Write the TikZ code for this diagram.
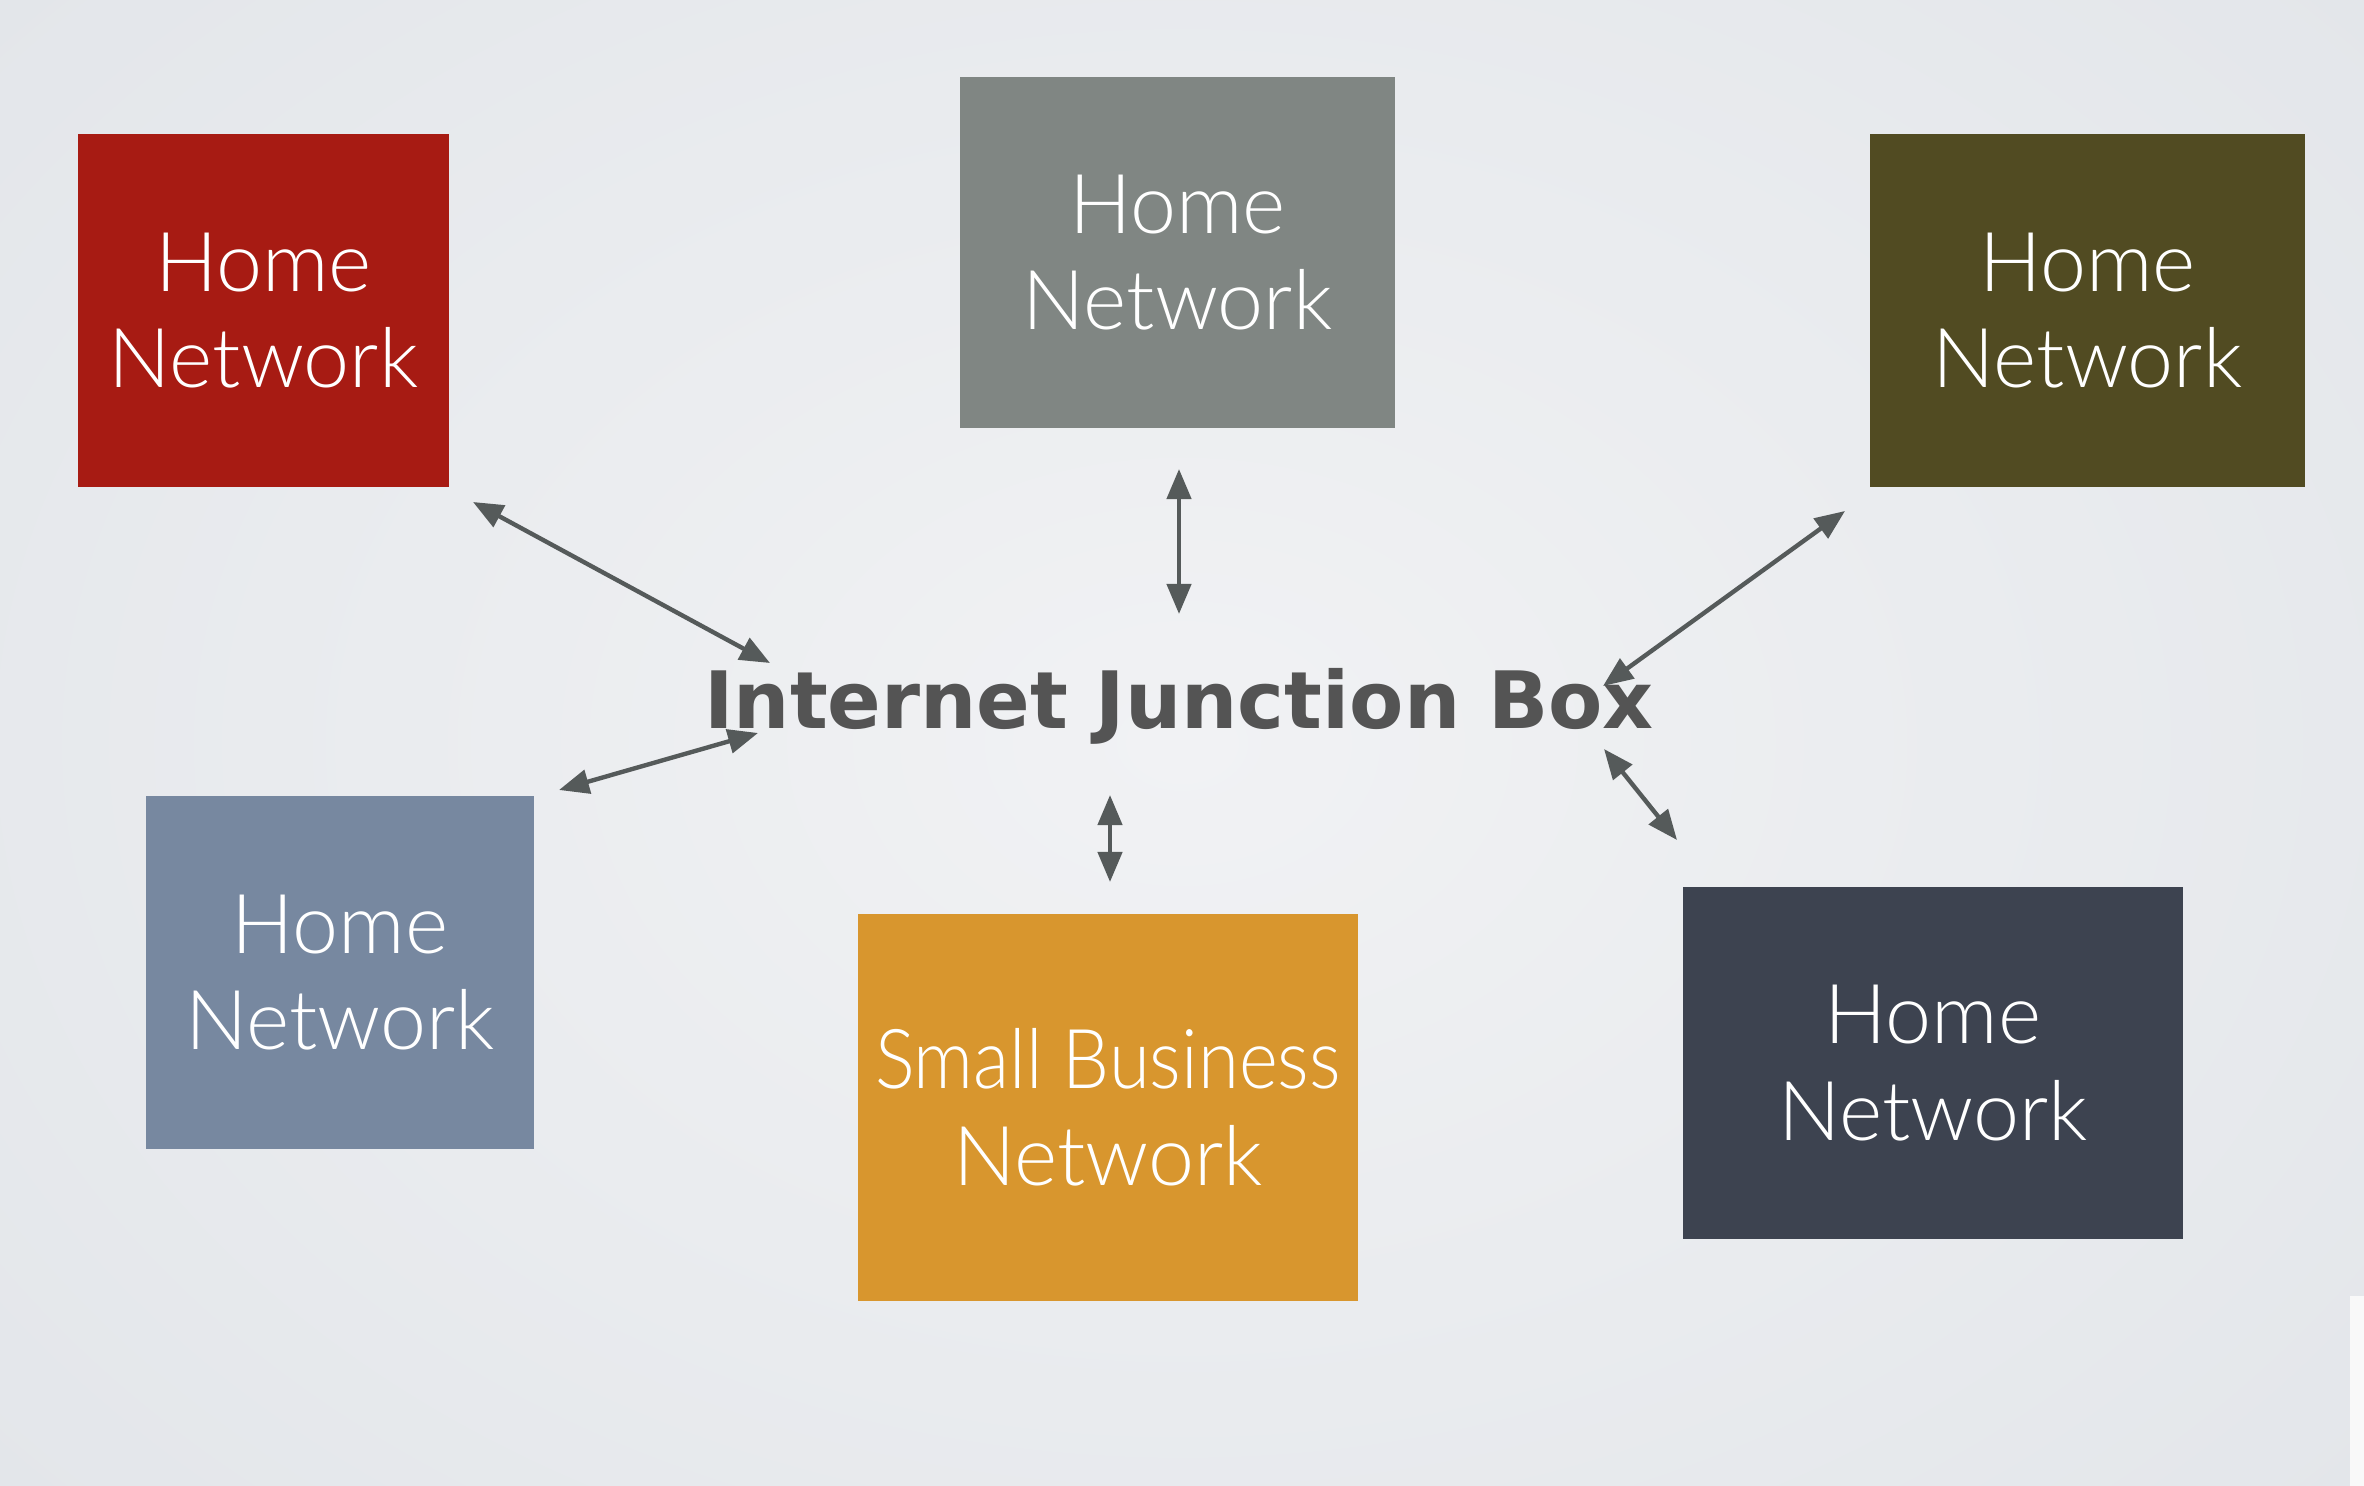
\documentclass[tikz,border=0pt]{standalone}
\usepackage{fontspec}
\setmainfont{Lato Light}
\newfontfamily\titlefont{DejaVu Sans}[BoldFont={DejaVu Sans Bold}]
\usetikzlibrary{arrows.meta}
\definecolor{bgin}{HTML}{F1F2F4}
\definecolor{bgout}{HTML}{E3E6EA}
\definecolor{cred}{HTML}{A71B13}
\definecolor{cgray}{HTML}{808683}
\definecolor{colive}{HTML}{514B22}
\definecolor{cblue}{HTML}{7788A0}
\definecolor{corange}{HTML}{D8962E}
\definecolor{cdark}{HTML}{3D4350}
\definecolor{arrowc}{HTML}{555A5A}
\definecolor{titlec}{HTML}{545454}
\tikzset{
  netbox/.style={draw=none, inner sep=0pt, text=white, align=center,
    font=\fontsize{23.5}{27.5}\selectfont},
  link/.style={draw=arrowc, line width=1.25pt, {Triangle[length=0.3cm,width=0.24cm]}-{Triangle[length=0.3cm,width=0.24cm]}}
}
\begin{document}
\begin{tikzpicture}[x=0.01cm,y=-0.01cm]
\useasboundingbox (0,0) rectangle (2364,1486);
\shade[inner color=bgin, outer color=bgout] (-400,-400) rectangle (2764,1886);
\fill[white!95!gray] (2350,1296) rectangle (2364,1486);
% boxes
\node[netbox, fill=cred, minimum width=3.71cm, minimum height=3.53cm] (red) at (263.5,310.5) {Home\\Network};
\node[netbox, fill=cgray, minimum width=4.35cm, minimum height=3.51cm] (gray) at (1177.5,252.5) {Home\\Network};
\node[netbox, fill=colive, minimum width=4.35cm, minimum height=3.53cm] (olive) at (2087.5,310.5) {Home\\Network};
\node[netbox, fill=cblue, minimum width=3.88cm, minimum height=3.53cm] (blue) at (340,972.5) {Home\\Network};
\node[netbox, fill=corange, minimum width=5.00cm, minimum height=3.87cm] (orange) at (1108,1107.5) {\scalebox{0.9}[1]{Small Business}\\Network};
\node[netbox, fill=cdark, minimum width=5.00cm, minimum height=3.52cm] (dark) at (1933,1063) {Home\\Network};
% title
\node[inner sep=0pt, text=titlec, font=\titlefont\bfseries\fontsize{22.5}{26}\selectfont] (hub) at (1179,706) {Internet Junction Box};
% connector ends
\coordinate (r1) at (473,502);   \coordinate (r2) at (770,663);
\coordinate (g1) at (1179,469);  \coordinate (g2) at (1179,614);
\coordinate (o1) at (1845,511);  \coordinate (o2) at (1603,686);
\coordinate (b1) at (559,790);   \coordinate (b2) at (758,733);
\coordinate (y1) at (1110,795);  \coordinate (y2) at (1110,882);
\coordinate (d1) at (1604,749);  \coordinate (d2) at (1677,840);
\draw[link] (r1) -- (r2);
\draw[link] (g1) -- (g2);
\draw[link] (o1) -- (o2);
\draw[link] (b1) -- (b2);
\draw[link] (y1) -- (y2);
\draw[link] (d1) -- (d2);
\end{tikzpicture}
\end{document}
